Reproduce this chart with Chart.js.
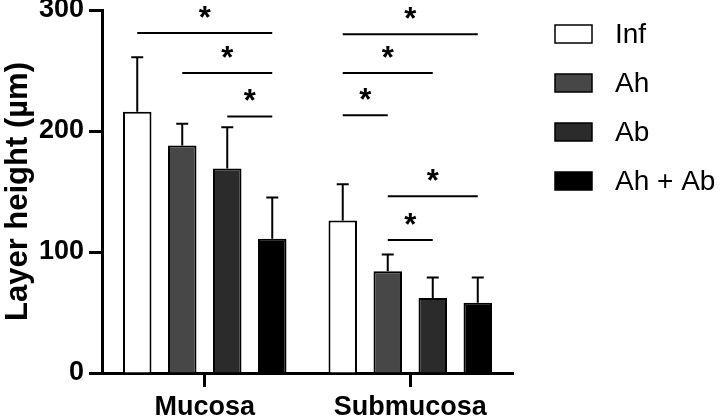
<!DOCTYPE html>
<html>
<head>
<meta charset="utf-8">
<script src="https://cdn.jsdelivr.net/npm/chart.js@4"></script>
<style>
  html, body { margin: 0; padding: 0; background: #fff; }
  #wrap { width: 721px; height: 418px; }
</style>
</head>
<body>
<div id="wrap"><canvas id="chart"></canvas></div>
<script>
// categories + series
const categories = ["Mucosa", "Submucosa"];
const seriesNames = ["Inf", "Ah", "Ab", "Ah + Ab"];

// mean layer height (µm)
const infMean = [216, 126];
const ahMean = [188, 84];
const abMean = [169, 62];
const ahAbMean = [111, 58];

// SD (upper error bar only)
const infSd = [45, 30];
const ahSd = [18, 14];
const abSd = [34, 17];
const ahAbSd = [34, 21];

const yTicks = [0, 100, 200, 300];

// significance brackets: category, from series, to series, height (µm)
const sigCategory = [0, 0, 0, 1, 1, 1, 1, 1];
const sigFrom = [0, 1, 2, 0, 0, 0, 1, 1];
const sigTo = [3, 3, 3, 3, 2, 1, 3, 2];
const sigHeight = [281, 248, 212, 280, 248, 213, 146, 110];

const FONT = "'Liberation Sans', Arial, sans-serif";
const fills = ["#ffffff", "#474747", "#2b2b2b", "#000000"];

const means = [infMean, ahMean, abMean, ahAbMean];
const sds = [infSd, ahSd, abSd, ahAbSd];

// error bars + significance lines + legend, drawn on top of the bars
const extrasPlugin = {
  id: "extras",
  afterDatasetsDraw(chart) {
    const ctx = chart.ctx;
    const y = chart.scales.y;
    ctx.save();
    ctx.strokeStyle = "#000";
    ctx.fillStyle = "#000";
    ctx.lineWidth = 2;

    // error bars
    chart.data.datasets.forEach((ds, di) => {
      const meta = chart.getDatasetMeta(di);
      meta.data.forEach((bar, i) => {
        const top = y.getPixelForValue(ds.data[i] + ds.sd[i]);
        ctx.beginPath();
        ctx.moveTo(bar.x, bar.y);
        ctx.lineTo(bar.x, top);
        ctx.moveTo(bar.x - 6, top);
        ctx.lineTo(bar.x + 6, top);
        ctx.stroke();
      });
    });

    // significance lines
    ctx.font = "bold 31px " + FONT;
    ctx.textAlign = "center";
    ctx.textBaseline = "alphabetic";
    sigHeight.forEach((h, k) => {
      const x1 = chart.getDatasetMeta(sigFrom[k]).data[sigCategory[k]].x;
      const x2 = chart.getDatasetMeta(sigTo[k]).data[sigCategory[k]].x;
      const py = y.getPixelForValue(h);
      ctx.beginPath();
      ctx.moveTo(x1, py);
      ctx.lineTo(x2, py);
      ctx.stroke();
      ctx.fillText("*", (x1 + x2) / 2, py - 5);
    });

    // legend
    ctx.font = "28px " + FONT;
    ctx.textAlign = "left";
    ctx.textBaseline = "middle";
    ctx.lineWidth = 1.5;
    chart.data.datasets.forEach((ds, di) => {
      const cy = 34 + di * 49;
      ctx.fillStyle = ds.backgroundColor;
      ctx.fillRect(555, cy - 9, 37, 18);
      ctx.strokeRect(555, cy - 9, 37, 18);
      ctx.fillStyle = "#000";
      ctx.fillText(ds.label, 615, cy + 1);
    });
    ctx.restore();
  }
};

new Chart(document.getElementById("chart"), {
  type: "bar",
  data: {
    labels: categories,
    datasets: seriesNames.map((name, i) => ({
      label: name,
      data: means[i],
      sd: sds[i],
      backgroundColor: fills[i],
      borderColor: "#000",
      borderWidth: 2,
      borderSkipped: "start",
      categoryPercentage: 0.876,
      barPercentage: 0.633
    }))
  },
  options: {
    responsive: true,
    maintainAspectRatio: false,
    animation: false,
    layout: {
      autoPadding: false,
      padding: { top: 10, right: 208, left: 0, bottom: 0 }
    },
    plugins: {
      legend: { display: false },
      tooltip: { enabled: false }
    },
    scales: {
      x: {
        z: 1,
        offset: true,
        grid: {
          offset: false,
          drawOnChartArea: false,
          drawTicks: true,
          tickLength: 14,
          tickWidth: 3,
          tickColor: "#000"
        },
        border: { display: true, width: 3, color: "#000" },
        ticks: {
          color: "#000",
          padding: 4,
          font: { family: FONT, size: 27, weight: "bold" }
        },
        afterFit: (s) => { s.height = 45; s.paddingLeft = 0; s.paddingRight = 0; }
      },
      y: {
        z: 1,
        min: 0,
        max: 300,
        afterBuildTicks: (s) => { s.ticks = yTicks.map((v) => ({ value: v })); },
        grid: {
          drawOnChartArea: false,
          drawTicks: true,
          tickLength: 13,
          tickWidth: 3,
          tickColor: "#000"
        },
        border: { display: true, width: 3, color: "#000" },
        ticks: {
          color: "#000",
          padding: 5,
          font: { family: FONT, size: 27, weight: "bold" }
        },
        title: {
          display: true,
          text: "Layer height (µm)",
          color: "#000",
          padding: { top: 0, bottom: 4 },
          font: { family: FONT, size: 31, weight: "bold" }
        },
        afterFit: (s) => { s.width = 102; s.paddingTop = 0; s.paddingBottom = 0; }
      }
    }
  },
  plugins: [extrasPlugin]
});
</script>
</body>
</html>
